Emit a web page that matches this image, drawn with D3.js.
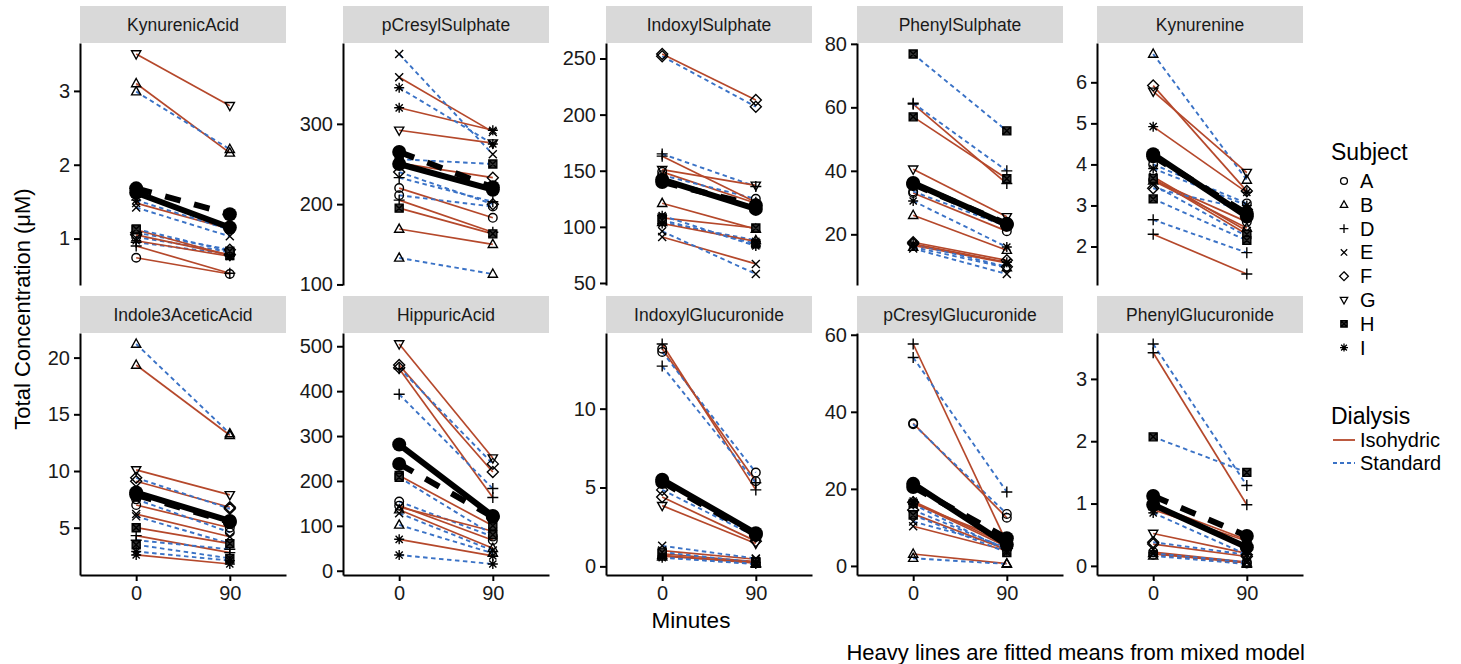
<!DOCTYPE html>
<html><head><meta charset="utf-8">
<script src="https://cdn.jsdelivr.net/npm/d3@7"></script>
<style>
html,body{margin:0;padding:0;background:#fff;}
svg text{font-family:"Liberation Sans",Arial,sans-serif;}
</style></head>
<body><svg id="chart" width="1461" height="664"></svg>
<script>
// ---------- data ----------
const subjects = ["A","B","D","E","F","G","H","I"];
const dialysisTypes = ["Isohydric","Standard"];
const minutes = ["0","90"];
const panelNames = ["KynurenicAcid","pCresylSulphate","IndoxylSulphate","PhenylSulphate","Kynurenine",
  "Indole3AceticAcid","HippuricAcid","IndoxylGlucuronide","pCresylGlucuronide","PhenylGlucuronide"];

// rows: [subject, dialysis, value at 0 min, value at 90 min]
const kynurenicAcid = [["A","Isohydric",0.74,0.52],["A","Standard",1.02,0.82],["B","Isohydric",3.10,2.16],["B","Standard",2.99,2.21],
  ["D","Isohydric",0.90,0.53],["D","Standard",0.95,0.79],["E","Isohydric",1.48,1.13],["E","Standard",1.42,1.03],
  ["F","Isohydric",1.05,0.78],["F","Standard",1.08,0.85],["G","Isohydric",3.50,2.80],["H","Isohydric",1.12,0.77],
  ["H","Standard",1.13,0.83],["I","Isohydric",0.97,0.76],["I","Standard",1.52,1.12]];
const pCresylSulphate = [["A","Isohydric",220,183],["A","Standard",211,197],["B","Isohydric",169,150],["B","Standard",133,113],
  ["D","Isohydric",205,165],["D","Standard",233,203],["E","Isohydric",358,290],["E","Standard",387,262],
  ["F","Isohydric",251,233],["F","Standard",240,200],["G","Isohydric",292,276],["H","Isohydric",195,163],
  ["H","Standard",256,250],["I","Isohydric",320,292],["I","Standard",345,275]];
const indoxylSulphate = [["A","Isohydric",149,121],["A","Standard",146,125],["B","Isohydric",121,98],["B","Standard",104,88],
  ["D","Isohydric",163,122],["D","Standard",165,136],["E","Isohydric",91,67],["E","Standard",96,58],
  ["F","Isohydric",254,213],["F","Standard",252,207],["G","Isohydric",151,137],["H","Isohydric",108,99],
  ["H","Standard",106,85],["I","Isohydric",103,87],["I","Standard",110,83]];
const phenylSulphate = [["A","Isohydric",33,21],["A","Standard",33.5,22.5],["B","Isohydric",26,15],["B","Standard",16,9.5],
  ["D","Isohydric",61,36],["D","Standard",61.3,40],["E","Isohydric",16.5,11],["E","Standard",15.5,7.5],
  ["F","Isohydric",17.5,11.8],["F","Standard",17,9.8],["G","Isohydric",40.5,25.5],["H","Isohydric",57,37.5],
  ["H","Standard",76.8,52.6],["I","Isohydric",17,11.2],["I","Standard",30.5,16]];
const kynurenine = [["A","Isohydric",3.62,2.6],["A","Standard",4.0,3.05],["B","Isohydric",3.6,2.45],["B","Standard",6.69,3.62],
  ["D","Isohydric",2.30,1.33],["D","Standard",2.65,1.85],["E","Isohydric",3.70,2.38],["E","Standard",3.5,2.25],
  ["F","Isohydric",5.92,3.35],["F","Standard",3.42,2.9],["G","Isohydric",5.78,3.8],["H","Isohydric",3.66,2.3],
  ["H","Standard",3.16,2.15],["I","Isohydric",4.92,3.32],["I","Standard",3.9,3.0]];
const indole3AceticAcid = [["A","Isohydric",7.0,5.0],["A","Standard",7.5,4.6],["B","Isohydric",19.35,13.15],["B","Standard",21.2,13.3],
  ["D","Isohydric",4.3,2.8],["D","Standard",3.9,3.1],["E","Isohydric",6.2,4.2],["E","Standard",6.0,3.6],
  ["F","Isohydric",9.1,6.8],["F","Standard",9.4,6.67],["G","Isohydric",10.1,7.9],["H","Isohydric",5.0,3.6],
  ["H","Standard",3.5,2.3],["I","Isohydric",2.6,1.8],["I","Standard",2.9,2.1]];
const hippuricAcid = [["A","Isohydric",145,68],["A","Standard",154,76],["B","Isohydric",136,50],["B","Standard",102,39],
  ["D","Isohydric",450,163],["D","Standard",393,183],["E","Isohydric",142,88],["E","Standard",128,45],
  ["F","Isohydric",458,220],["F","Standard",452,238],["G","Isohydric",505,251],["H","Isohydric",212,100],
  ["H","Standard",208,80],["I","Isohydric",70,33],["I","Standard",35,15]];
const indoxylGlucuronide = [["A","Isohydric",13.8,5.4],["A","Standard",13.6,5.95],["B","Isohydric",0.7,0.2],["B","Standard",0.6,0.15],
  ["D","Isohydric",14.1,4.85],["D","Standard",12.7,5.3],["E","Isohydric",1.0,0.45],["E","Standard",1.3,0.5],
  ["F","Isohydric",4.4,1.6],["F","Standard",4.85,1.9],["G","Isohydric",3.85,1.45],["H","Isohydric",0.8,0.3],
  ["H","Standard",0.9,0.25],["I","Isohydric",0.65,0.25],["I","Standard",0.55,0.15]];
const pCresylGlucuronide = [["A","Isohydric",37,12.5],["A","Standard",36.8,13.5],["B","Isohydric",3.1,0.6],["B","Standard",2.0,0.5],
  ["D","Isohydric",57.6,6],["D","Standard",54.1,19.2],["E","Isohydric",10.3,4],["E","Standard",11.5,5],
  ["F","Isohydric",16.5,5],["F","Standard",14.5,4.5],["G","Isohydric",13.5,4.2],["H","Isohydric",16.2,6.5],
  ["H","Standard",13.2,3.5],["I","Isohydric",16.8,5.5],["I","Standard",16,4]];
const phenylGlucuronide = [["A","Isohydric",0.22,0.06],["A","Standard",0.18,0.04],["B","Isohydric",0.2,0.05],["B","Standard",0.16,0.03],
  ["D","Isohydric",3.42,0.98],["D","Standard",3.56,1.29],["E","Isohydric",0.19,0.05],["E","Standard",0.2,0.06],
  ["F","Isohydric",0.35,0.15],["F","Standard",0.38,0.18],["G","Isohydric",0.52,0.2],["H","Isohydric",0.98,0.42],
  ["H","Standard",2.07,1.5],["I","Isohydric",0.9,0.4],["I","Standard",0.85,0.18]];

// fitted means from mixed model (per panel, same order as panelNames)
const fittedIso0  = [1.62, 250, 142, 36.2, 4.25, 8.1, 281, 5.5, 21.3, 0.98];
const fittedIso90 = [1.15, 218, 116, 23.0, 2.73, 5.6, 122, 2.1, 5.5, 0.30];
const fittedStd0  = [1.68, 265, 140, 35.8, 4.20, 7.9, 238, 5.35, 20.5, 1.12];
const fittedStd90 = [1.33, 221, 119, 23.3, 2.80, 5.5, 120, 2.0, 7.2, 0.48];

const yTicks = [[1,2,3],[100,200,300],[50,100,150,200,250],[20,40,60,80],[2,3,4,5,6],
  [5,10,15,20],[0,100,200,300,400,500],[0,5,10],[0,20,40,60],[0,1,2,3]];

const panelData = [kynurenicAcid,pCresylSulphate,indoxylSulphate,phenylSulphate,kynurenine,
  indole3AceticAcid,hippuricAcid,indoxylGlucuronide,pCresylGlucuronide,phenylGlucuronide];

// ---------- styles / layout ----------
const colIso = "#B5482B", colStd = "#3A72C6";
const panelLefts = [80, 343, 606, 857, 1097];
const rowTops = [43, 333];
const PW = 206, PH = 242, STRIP = 37;

const svg = d3.select("#chart");

function shapePath(s, k) {
  k = k || 1;
  const p = d3.path();
  const r = 4.3*k;
  switch (s) {
    case "A": p.arc(0,0,r,0,2*Math.PI); break;
    case "B": p.moveTo(0,-5*k); p.lineTo(4.6*k,3.2*k); p.lineTo(-4.6*k,3.2*k); p.closePath(); break;
    case "D": p.moveTo(-5.5*k,0); p.lineTo(5.5*k,0); p.moveTo(0,-5.5*k); p.lineTo(0,5.5*k); break;
    case "E": p.moveTo(-4*k,-4*k); p.lineTo(4*k,4*k); p.moveTo(-4*k,4*k); p.lineTo(4*k,-4*k); break;
    case "F": p.moveTo(0,-5.5*k); p.lineTo(5.5*k,0); p.lineTo(0,5.5*k); p.lineTo(-5.5*k,0); p.closePath(); break;
    case "G": p.moveTo(0,5*k); p.lineTo(4.6*k,-3.2*k); p.lineTo(-4.6*k,-3.2*k); p.closePath(); break;
    case "H": p.rect(-4*k,-4*k,8*k,8*k); p.moveTo(-4*k,-4*k); p.lineTo(4*k,4*k); p.moveTo(-4*k,4*k); p.lineTo(4*k,-4*k); break;
    case "I": p.moveTo(-5*k,0); p.lineTo(5*k,0); p.moveTo(0,-5*k); p.lineTo(0,5*k);
              p.moveTo(-3.6*k,-3.6*k); p.lineTo(3.6*k,3.6*k); p.moveTo(-3.6*k,3.6*k); p.lineTo(3.6*k,-3.6*k); break;
  }
  return p.toString();
}

const x = d3.scalePoint().domain(minutes).range([0, PW]).padding(0.6);

panelNames.forEach((name, i) => {
  const row = Math.floor(i/5), col = i%5;
  const left = panelLefts[col], top = rowTops[row];
  const rows = panelData[i];
  const all = rows.flatMap(r => [r[2], r[3]]).concat([fittedIso0[i],fittedIso90[i],fittedStd0[i],fittedStd90[i]]);
  const lo = d3.min(all), hi = d3.max(all), pad = (hi-lo)*0.05;
  const y = d3.scaleLinear().domain([lo-pad, hi+pad]).range([PH, 0]);

  // strip
  svg.append("rect").attr("x", left).attr("y", top-STRIP).attr("width", PW).attr("height", STRIP).attr("fill", "#D9D9D9");
  svg.append("text").attr("x", left+PW/2).attr("y", top-STRIP/2+6.5).attr("text-anchor","middle")
    .attr("font-size", 17.5).attr("fill","#1a1a1a").text(name);

  const g = svg.append("g").attr("transform", `translate(${left},${top})`);

  // subject lines
  const line = d3.line().x(d => x(d[0])).y(d => y(d[1]));
  rows.forEach(r => {
    const iso = r[1] === "Isohydric";
    g.append("path").attr("d", line([[minutes[0], r[2]],[minutes[1], r[3]]]))
      .attr("fill","none").attr("stroke", iso ? colIso : colStd).attr("stroke-width", iso ? 1.7 : 1.9)
      .attr("stroke-dasharray", iso ? null : "4.5,3.5");
  });
  // subject points
  rows.forEach(r => {
    [[minutes[0], r[2]],[minutes[1], r[3]]].forEach(pt => {
      g.append("path").attr("d", shapePath(r[0])).attr("transform", `translate(${x(pt[0])},${y(pt[1])})`)
        .attr("fill", r[0]==="H" ? "#333" : "none").attr("stroke","#000").attr("stroke-width",1.4);
    });
  });
  // fitted means
  [[fittedIso0[i], fittedIso90[i], null],[fittedStd0[i], fittedStd90[i], "16,14"]].forEach(f => {
    g.append("path").attr("d", line([[minutes[0], f[0]],[minutes[1], f[1]]]))
      .attr("fill","none").attr("stroke","#000").attr("stroke-width", 6).attr("stroke-dasharray", f[2]);
    g.append("circle").attr("cx", x(minutes[0])).attr("cy", y(f[0])).attr("r", 7).attr("fill","#000");
    g.append("circle").attr("cx", x(minutes[1])).attr("cy", y(f[1])).attr("r", 7).attr("fill","#000");
  });

  // y axis
  const ya = g.append("g").call(d3.axisLeft(y).tickValues(yTicks[i]).tickFormat(d3.format("~g"))
    .tickSize(6).tickSizeOuter(0).tickPadding(4));
  ya.select(".domain").attr("stroke","#000").attr("stroke-width",2);
  ya.selectAll(".tick line").attr("stroke","#000").attr("stroke-width",2);
  ya.selectAll(".tick text").attr("font-size",20).attr("fill","#1a1a1a").attr("font-family","Liberation Sans, Arial, sans-serif");

  // x axis only on bottom row
  if (row === 1) {
    const xa = g.append("g").attr("transform", `translate(0,${PH})`)
      .call(d3.axisBottom(x).tickSize(6).tickSizeOuter(0).tickPadding(5));
    xa.select(".domain").attr("stroke","#000").attr("stroke-width",2);
    xa.selectAll(".tick line").attr("stroke","#000").attr("stroke-width",2);
    xa.selectAll(".tick text").attr("font-size",20).attr("fill","#1a1a1a").attr("font-family","Liberation Sans, Arial, sans-serif");
  }
});

// axis titles
svg.append("text").attr("transform","translate(30,309) rotate(-90)").attr("text-anchor","middle")
  .attr("font-size",22).attr("fill","#000").text("Total Concentration (\u03BCM)");
svg.append("text").attr("x",691).attr("y",628).attr("text-anchor","middle")
  .attr("font-size",22.5).attr("fill","#000").text("Minutes");
svg.append("text").attr("x",1305).attr("y",660).attr("text-anchor","end")
  .attr("font-size",22).attr("fill","#000").text("Heavy lines are fitted means from mixed model");

// legend: Subject
svg.append("text").attr("x",1331).attr("y",160).attr("font-size",23).attr("fill","#000").text("Subject");
subjects.forEach((s, k) => {
  const cy = 181 + k*23.8;
  svg.append("path").attr("d", shapePath(s, 0.8)).attr("transform", `translate(1344,${cy})`)
    .attr("fill", s==="H" ? "#333" : "none").attr("stroke","#000").attr("stroke-width",1.3);
  svg.append("text").attr("x",1360).attr("y",cy+7).attr("font-size",20).attr("fill","#000").text(s);
});
// legend: Dialysis
svg.append("text").attr("x",1331).attr("y",424).attr("font-size",23).attr("fill","#000").text("Dialysis");
dialysisTypes.forEach((dname, k) => {
  const cy = 440 + k*23;
  const iso = dname === "Isohydric";
  svg.append("line").attr("x1",1333).attr("x2",1355).attr("y1",cy).attr("y2",cy)
    .attr("stroke", iso ? colIso : colStd).attr("stroke-width",1.8).attr("stroke-dasharray", iso ? null : "4,3");
  svg.append("text").attr("x",1360).attr("y",cy+7).attr("font-size",20).attr("fill","#000").text(dname);
});
</script></body></html>
